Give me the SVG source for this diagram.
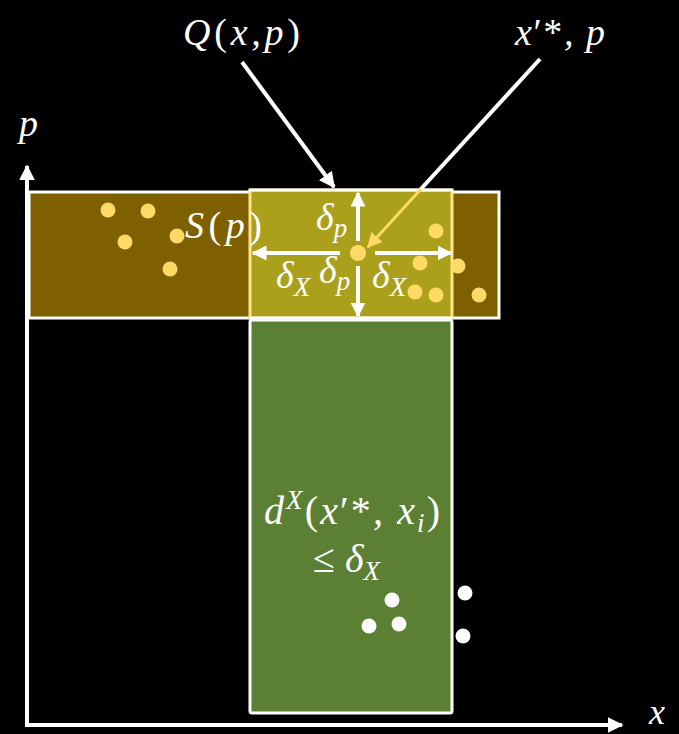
<svg xmlns="http://www.w3.org/2000/svg" width="679" height="734" viewBox="0 0 679 734">
<style>
text{fill:#fff;font-style:italic}
.n{font-style:normal}
.ln{stroke:#fff;stroke-width:4;fill:none}
.yd{fill:#FFD966}
.wd{fill:#fff}
</style>
<defs>
<marker id="ah" viewBox="0 0 10 10" refX="9" refY="5" markerWidth="16" markerHeight="16" markerUnits="userSpaceOnUse" orient="auto"><path d="M0,0 L10,5 L0,10 z" fill="#fff"/></marker>
<marker id="ahs" viewBox="0 0 10 10" refX="9" refY="5" markerWidth="15" markerHeight="15" markerUnits="userSpaceOnUse" orient="auto"><path d="M0,0 L10,5 L0,10 z" fill="#fff"/></marker>
<marker id="ahy" viewBox="0 0 10 10" refX="9" refY="5" markerWidth="15" markerHeight="15" markerUnits="userSpaceOnUse" orient="auto"><path d="M0,0 L10,5 L0,10 z" fill="#FFD966"/></marker>
</defs>
<rect width="679" height="734" fill="#000"/>

<g id="axes" font-family="'Liberation Serif', serif">
<line class="ln" x1="27" y1="725" x2="27" y2="166" marker-end="url(#ah)"/>
<line class="ln" x1="25" y1="725" x2="622" y2="725" marker-end="url(#ah)"/>
<text x="19" y="136" font-size="38">p</text>
<text x="649" y="724" font-size="36">x</text>
</g>

<g id="region-S">
<rect x="29" y="192" width="470" height="126" fill="#7F6000" stroke="#fff" stroke-width="3"/>
</g>

<g id="region-d">
<rect x="250" y="320" width="202" height="393" rx="2" fill="#5B8033" stroke="#fff" stroke-width="3"/>
</g>

<g id="connectors">
<line class="ln" x1="242" y1="62" x2="334" y2="187" marker-end="url(#ah)"/>
<line class="ln" x1="540" y1="59" x2="420" y2="190"/>
</g>

<g id="region-Q">
<rect x="250" y="190" width="202" height="128" fill="#ABA01C" stroke="#FFE38A" stroke-width="3"/>
<line x1="250" y1="190" x2="452" y2="190" stroke="#fff" stroke-width="3" stroke-linecap="round"/>
<line x1="250" y1="318" x2="452" y2="318" stroke="#fff" stroke-width="3"/>
<line x1="421" y1="189" x2="368" y2="247" stroke="#FFD966" stroke-width="3" marker-end="url(#ahy)"/>
</g>

<g id="dots">
<circle class="yd" cx="108" cy="210" r="7.5"/>
<circle class="yd" cx="148" cy="211" r="7.5"/>
<circle class="yd" cx="125" cy="242" r="7.5"/>
<circle class="yd" cx="177" cy="236" r="7.5"/>
<circle class="yd" cx="170" cy="269" r="7.5"/>
<circle class="yd" cx="436" cy="231" r="7.5"/>
<circle class="yd" cx="420" cy="263" r="7.5"/>
<circle class="yd" cx="458" cy="266" r="7.5"/>
<circle class="yd" cx="415" cy="292" r="7.5"/>
<circle class="yd" cx="436" cy="295" r="7.5"/>
<circle class="yd" cx="479" cy="295" r="7.5"/>
<circle class="yd" cx="358" cy="253" r="8"/>
<circle class="wd" cx="392" cy="600" r="7.5"/>
<circle class="wd" cx="369" cy="626" r="7.5"/>
<circle class="wd" cx="399" cy="624" r="7.5"/>
<circle class="wd" cx="465" cy="593" r="7.5"/>
<circle class="wd" cx="463" cy="636" r="7.5"/>
</g>

<g id="delta-arrows">
<line class="ln" x1="358" y1="241" x2="358" y2="193" marker-end="url(#ahs)"/>
<line class="ln" x1="358" y1="266" x2="358" y2="316" marker-end="url(#ahs)"/>
<line class="ln" x1="340" y1="253" x2="253" y2="253" marker-end="url(#ahs)"/>
<line class="ln" x1="375" y1="253" x2="451" y2="253" marker-end="url(#ahs)"/>
</g>

<g id="labels" font-family="'Liberation Serif', serif">
<text x="183" y="45" font-size="38" textLength="117" lengthAdjust="spacing">Q<tspan class="n">(</tspan>x,p<tspan class="n">)</tspan></text>
<text x="515" y="45" font-size="38" textLength="90" lengthAdjust="spacing">x<tspan class="n">′*</tspan>, p</text>
<text x="185" y="238" font-size="38" textLength="77" lengthAdjust="spacing">S<tspan class="n">(</tspan>p<tspan class="n">)</tspan></text>
<text x="316" y="230" font-size="38">δ<tspan font-size="27" dy="7">p</tspan></text>
<text x="276" y="288" font-size="38">δ<tspan font-size="27" dy="8">X</tspan></text>
<text x="319" y="283" font-size="38">δ<tspan font-size="27" dy="7">p</tspan></text>
<text x="372" y="288" font-size="38">δ<tspan font-size="27" dy="8">X</tspan></text>
<text x="264" y="524" font-size="40" textLength="176" lengthAdjust="spacing">d<tspan font-size="27" dy="-15">X</tspan><tspan class="n" dy="15">(</tspan>x<tspan class="n">′*</tspan>, x<tspan font-size="27" dy="8">i</tspan><tspan class="n" dy="-8">)</tspan></text>
<text x="313" y="572" font-size="40"><tspan class="n">≤ </tspan>δ<tspan font-size="27" dy="8">X</tspan></text>
</g>
</svg>
